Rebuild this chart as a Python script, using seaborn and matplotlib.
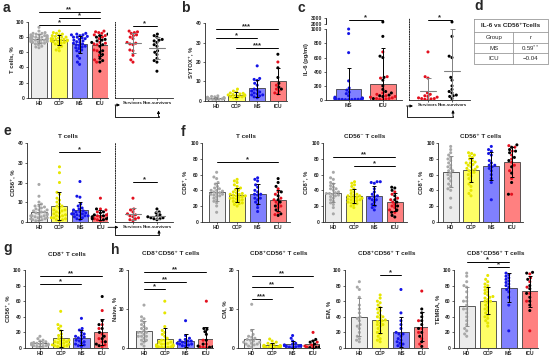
import numpy as np
import pandas as pd
import matplotlib
matplotlib.use("Agg")
from matplotlib import pyplot as plt
import seaborn as sns

# ---------------- datos (leídos a ojo de la figura) ----------------
groups = ["HD", "CCP", "MS", "ICU"]
surv_groups = ["Survivors", "Non-survivors"]

# a: T cells, %
a_hd = [93, 88, 86, 85, 84, 83, 83, 82, 82, 81, 80, 80, 79, 79, 78, 78, 77, 77, 76, 76,
        75, 75, 74, 74, 73, 72, 71, 70, 68, 67, 66, 85, 81, 79, 77, 74, 72, 80, 78, 76]
a_ccp = [88, 86, 85, 84, 83, 82, 81, 80, 79, 78, 78, 77, 76, 76, 75, 74, 74, 73, 72, 71,
         70, 68, 66, 63, 62, 80, 77, 75]
a_ms = [85, 84, 83, 83, 82, 81, 80, 79, 78, 77, 75, 74, 73, 72, 71, 70, 69, 68, 67, 66,
        65, 63, 62, 60, 55, 52, 47, 44, 80, 76]
a_icu_s = [88, 87, 86, 85, 83, 82, 80, 78, 73, 72, 71, 70, 63, 62, 56, 50, 47]
a_icu_n = [84, 82, 80, 77, 76, 75, 73, 70, 68, 62, 60, 57, 52, 49, 47, 35]

# b: SYTOX+, %
b_hd = [0.5, 0.7, 0.8, 1.0, 1.1, 1.2, 1.3, 1.5, 1.6, 1.8, 2.0, 2.2, 2.5, 1.0, 0.9]
b_ccp = [1.0, 1.5, 2.0, 2.2, 2.5, 2.8, 3.0, 3.2, 3.5, 3.8, 4.0, 4.5, 5.0, 6.0, 2.0, 3.0]
b_ms = [18, 11.5, 11, 10.5, 9, 8, 6, 5.5, 5, 4.5, 4, 3.5, 3, 2.5, 2, 1.5, 3]
b_icu_s = [20, 8, 6, 5, 4, 3.5]
b_icu_n = [24, 17, 12, 9, 7, 6]

# c: IL-6 (pg/ml)
c_ms = [1050, 940, 670, 270, 170, 140, 110, 90, 60, 40, 30, 25, 20, 15, 12, 10, 8, 6, 5,
        20, 15, 10, 5, 10]
c_icu_s = [680, 330, 310, 100, 80, 60, 50, 40, 30, 20, 20, 15, 10, 5]
c_icu_n = [2300, 900, 620, 600, 320, 280, 200, 150, 120, 100, 70, 60, 50, 20]

# d: tabla de correlación
d_rows = [["Group", "r"], ["MS", "0.59$^{**}$"], ["ICU", "\u22120.04"]]

# e: CD56+, % (T cells)
e_hd = [19, 13, 10, 9, 8, 7.5, 7, 6.5, 6, 5.5, 5, 5, 4.5, 4, 4, 3.5, 3, 3, 2.5, 2.5, 2, 2,
        1.5, 1.5, 1, 1, 0.5, 0.5, 6, 8, 3]
e_ccp = [28, 25, 20, 15, 14, 12, 11, 10, 9, 8, 7, 6, 5.5, 5, 4.5, 4, 3.5, 3, 2.5, 2, 1.5,
         1, 0.5, 6, 3, 2, 1, 8]
e_ms = [20.5, 13, 12.5, 9, 8, 7, 6.5, 6, 5.5, 5, 4.5, 4, 4, 3.5, 3, 3, 2.5, 2, 1.5, 1, 5, 4, 3]
e_icu_s = [12, 6.5, 6, 5, 4, 3.5, 3, 2.5, 2, 1.5, 1, 0.5]
e_icu_n = [6.5, 5, 4.5, 3.5, 3, 2.5, 2, 2, 1.5, 1.5, 1]

# f1: T cells, CD8+ %
f1_hd = [63, 57, 55, 50, 48, 45, 43, 42, 40, 39, 38, 37, 36, 35, 34, 33, 32, 30, 28, 26,
         24, 20, 12, 40, 35]
f1_ccp = [54, 52, 50, 47, 45, 43, 41, 40, 38, 37, 36, 35, 34, 33, 32, 31, 30, 29, 28, 27,
          26, 25, 24, 23, 22, 20, 35, 33, 30]
f1_ms = [56, 54, 52, 47, 44, 40, 38, 35, 34, 30, 28, 25, 22, 18, 13, 35, 30]
f1_icu_s = [42, 38, 35, 30, 28, 25, 22, 20, 18, 12, 9]
f1_icu_n = [55, 50, 45, 38, 33, 28, 25, 20, 15, 10, 8]

# f2: CD56- T cells, CD8+ %
f2_hd = [63, 56, 54, 50, 48, 46, 44, 42, 40, 38, 37, 36, 35, 34, 33, 32, 30, 28, 26, 24,
         22, 18, 10, 42, 36]
f2_ccp = [51, 49, 47, 45, 42, 40, 38, 36, 35, 34, 33, 32, 31, 30, 29, 28, 27, 26, 25, 24,
          23, 22, 20, 18, 33, 30, 28]
f2_ms = [51, 51, 50, 49, 42, 38, 35, 32, 30, 28, 25, 22, 20, 18, 15, 33, 28]
f2_icu_s = [38, 35, 30, 28, 25, 22, 20, 18, 15, 12]
f2_icu_n = [44, 43, 40, 33, 28, 25, 20, 15, 12, 8, 6]

# f3: CD56+ T cells, CD8+ %
f3_hd = [96, 92, 88, 85, 82, 80, 78, 75, 72, 70, 68, 65, 62, 60, 55, 52, 48, 45, 42, 40,
         30, 18, 65, 58]
f3_ccp = [88, 87, 85, 84, 82, 80, 78, 76, 75, 73, 72, 70, 68, 67, 66, 65, 63, 62, 60, 58,
          55, 52, 48, 45, 40, 36, 33, 70, 75]
f3_ms = [96, 92, 90, 87, 85, 78, 75, 72, 70, 68, 65, 60, 55, 50, 28, 72]
f3_icu_s = [97, 95, 90, 85, 80, 76, 72, 65, 55, 35]
f3_icu_n = [98, 95, 92, 90, 88, 82, 78, 70, 62, 50, 35]

# g: CD8+ T cells, CD56+ %
g_hd = [15, 12, 10, 9, 8, 7, 6, 6, 5, 5, 4, 4, 3, 3, 2, 2, 1, 6, 5]
g_ccp = [47, 30, 28, 25, 22, 18, 16, 14, 12, 10, 9, 8, 7, 6, 5, 5, 4, 3, 3, 2, 2, 1, 10, 8]
g_ms = [38, 25, 23, 20, 18, 16, 15, 13, 12, 10, 9, 8, 6, 5, 4, 3, 2, 14]
g_icu_s = [48, 30, 25, 18, 12, 8, 4, 2]
g_icu_n = [66, 35, 30, 25, 20, 15, 12, 8, 5, 3]

# h1: Naive, %
h1_hd = [11, 8, 7.5, 7, 6.5, 6, 5.5, 5, 5, 4.5, 4, 4, 3.5, 3, 3, 2.5, 2, 2, 1.5, 1, 0.5, 4, 3]
h1_ccp = [12, 9, 5.5, 4.5, 4, 3.5, 3, 2.5, 2, 2, 1.5, 1.5, 1, 1, 0.8, 0.6, 0.5, 0.4, 0.3,
          0.2, 0.2, 0.1, 1.2, 0.8, 0.5, 0.3]
h1_ms = [7, 3.2, 2.5, 2, 1.8, 1.5, 1.3, 1.2, 1, 1, 0.8, 0.6, 0.5, 2.2, 1.8]
h1_icu_s = [12, 2, 1, 0.5, 0.3, 0.2, 0.1]
h1_icu_n = [5, 4.8, 4.2, 3.5, 2, 1, 0.5, 0.3, 0.2]

# h2: CM, %
h2_hd = [11.2, 4.5, 3.5, 3, 2.8, 2.5, 2.2, 2, 1.8, 1.5, 1.2, 1, 0.8, 0.5, 0.3, 1.5, 1]
h2_ccp = [2.3, 1.8, 1.5, 1.2, 1, 0.8, 0.7, 0.6, 0.5, 0.4, 0.3, 0.3, 0.2, 0.2, 0.1, 0.1,
          0.5, 0.6, 0.3]
h2_ms = [3.2, 2.5, 1.8, 1.2, 1, 0.8, 0.6, 0.5, 0.4, 0.3, 0.2, 0.1, 0.5, 0.6]
h2_icu_s = [4, 1.5, 0.8, 0.5, 0.2, 0.1]
h2_icu_n = [2.2, 1.8, 1.5, 1, 0.6, 0.3, 0.2, 0.1]

# h3: EM, %
h3_hd = [85, 78, 75, 65, 55, 50, 45, 40, 38, 35, 30, 28, 25, 20, 15, 12, 10, 8]
h3_ccp = [68, 64, 60, 58, 55, 52, 50, 48, 45, 42, 40, 38, 36, 34, 32, 30, 28, 25, 22, 20,
          18, 15, 12, 10, 8, 40, 35, 30]
h3_ms = [75, 45, 35, 30, 25, 20, 18, 15, 12, 10, 8, 6, 5, 3, 2, 18]
h3_icu_s = [73, 35, 25, 20, 12, 5]
h3_icu_n = [50, 45, 40, 35, 30, 25, 20, 15, 8, 2]

# h4: TEMRA, %
h4_hd = [96, 92, 85, 80, 78, 72, 65, 60, 55, 50, 45, 40, 35, 30, 25, 22, 18, 15, 60, 50]
h4_ccp = [93, 88, 85, 82, 80, 78, 76, 74, 72, 70, 68, 66, 64, 62, 60, 58, 55, 52, 50, 48,
          45, 42, 40, 38, 35, 32, 28, 60, 65]
h4_ms = [96, 94, 92, 90, 88, 86, 84, 82, 80, 78, 72, 65, 55, 22, 75]
h4_icu_s = [95, 90, 85, 78, 70, 60, 22]
h4_icu_n = [97, 96, 88, 80, 76, 70, 65, 60, 55, 48]

# ---------------- estilo ----------------
sns.set_style("ticks")
plt.rcParams["font.family"] = ["Liberation Sans", "DejaVu Sans"]
plt.rcParams["axes.linewidth"] = 0.6

bar_pal = {"HD": "#ebebeb", "CCP": "#ffff66", "MS": "#8080ff", "ICU": "#ff8080"}
pt_pal = {"HD": "#a8a8a8", "CCP": "#e6e600", "MS": "#1414e6", "S": "#e3101e", "N": "#000000"}
err_col = {"HD": "#8c8c8c", "CCP": "k", "MS": "k", "ICU": "k"}

W, H = 550, 357
fig = plt.figure(figsize=(W / 100, H / 100), dpi=100)


def px_axes(left, right, top, bottom):
    return fig.add_axes([left / W, 1 - bottom / H, (right - left) / W, (bottom - top) / H])


def sig_lines(ax, sigs, fs=5.5):
    for x1, x2, y, txt in sigs:
        ax.plot([x1, x2], [y, y], color="k", lw=0.7, clip_on=False)
        ax.annotate(txt, xy=((x1 + x2) / 2, y), xytext=(0, -0.8), textcoords="offset points",
                    ha="center", va="bottom", fontsize=fs, fontweight="bold",
                    annotation_clip=False)


def style(ax, yticks, ylabel, xlim, ylim):
    sns.despine(ax=ax)
    ax.set_xlim(xlim)
    ax.set_ylim(ylim)
    ax.set_yticks(yticks)
    ax.tick_params(labelsize=3.6, length=1.5, width=0.5, pad=1)
    for lab in ax.get_xticklabels() + ax.get_yticklabels():
        lab.set_fontweight("bold")
    ax.set_xlabel("")
    ax.set_ylabel(ylabel, fontsize=4.2, fontweight="bold", labelpad=1.5)


def bar_panel(ax, data, order=groups, width=0.78):
    recs = []
    for g, v in zip(order, data):
        if isinstance(v, tuple):
            recs += [(g, x, "S") for x in v[0]] + [(g, x, "N") for x in v[1]]
        else:
            recs += [(g, x, g) for x in v]
    df = pd.DataFrame(recs, columns=["group", "value", "kind"])
    sns.barplot(data=df, x="group", y="value", order=order, hue="group", palette=bar_pal,
                errorbar=None, width=width, saturation=1, edgecolor="#404040", linewidth=0.6,
                legend=False, ax=ax, zorder=1)
    sns.swarmplot(data=df, x="group", y="value", order=order, hue="kind", palette=pt_pal,
                  size=2.2, linewidth=0, legend=False, ax=ax, warn_thresh=1, zorder=3)
    st = df.groupby("group")["value"].agg(["mean", "std"]).reindex(order)
    for i, g in enumerate(order):
        ax.errorbar(i, st.loc[g, "mean"], yerr=st.loc[g, "std"], fmt="none",
                    ecolor=err_col[g], elinewidth=0.7, capsize=1.6, capthick=0.7, zorder=5)


def surv_panel(ax, s, n):
    df = pd.DataFrame([("Survivors", x, "S") for x in s] + [("Non-survivors", x, "N") for x in n],
                      columns=["group", "value", "kind"])
    sns.swarmplot(data=df, x="group", y="value", order=surv_groups, hue="kind", palette=pt_pal,
                  size=2.2, linewidth=0, legend=False, ax=ax, warn_thresh=1, zorder=3)
    st = df.groupby("group")["value"].agg(["mean", "std"]).reindex(surv_groups)
    for i, g in enumerate(surv_groups):
        m, sd = st.loc[g, "mean"], st.loc[g, "std"]
        ax.errorbar(i, m, yerr=sd, fmt="none", ecolor="#808080", elinewidth=0.7,
                    capsize=1.8, capthick=0.7, zorder=4)
        ax.plot([i - 0.32, i + 0.32], [m, m], color="#808080", lw=0.8, zorder=4)


def style_surv(ax, xlim, ylim):
    ax.set_xlim(xlim)
    ax.set_ylim(ylim)
    for sp in ["top", "right"]:
        ax.spines[sp].set_visible(False)
    ax.spines["left"].set_linestyle((0, (1, 1.5)))
    ax.spines["left"].set_linewidth(0.7)
    ax.tick_params(axis="y", left=False, labelleft=False)
    ax.tick_params(axis="x", labelsize=3.2, length=1.5, width=0.5, pad=1)
    for lab in ax.get_xticklabels():
        lab.set_fontweight("bold")
    ax.set_xlabel("")
    ax.set_ylabel("")


def title(ax, txt, pad=4):
    ax.set_title(txt, fontsize=4.6, fontweight="bold", pad=pad)


# ---------------- a ----------------
ax = px_axes(28, 108, 22, 97.7)
bar_panel(ax, [a_hd, a_ccp, a_ms, (a_icu_s, a_icu_n)])
style(ax, range(0, 101, 20), "T cells, %", (-0.54, 3.4), (0, 100))
sig_lines(ax, [(0, 2, 96, "*"), (1, 3, 105, "*"), (0, 3, 113, "**")])
ax = px_axes(115, 173, 22, 97.7)
surv_panel(ax, a_icu_s, a_icu_n)
style_surv(ax, (-0.75, 1.67), (0, 100))
sig_lines(ax, [(0, 1, 95, "*")])

# ---------------- b ----------------
ax = px_axes(205, 287, 23.3, 100.7)
bar_panel(ax, [b_hd, b_ccp, b_ms, (b_icu_s, b_icu_n)])
style(ax, range(0, 41, 10), "SYTOX\u207a, %", (-0.52, 3.44), (0, 40))
sig_lines(ax, [(0, 3, 37, "***"), (0, 2, 32.5, "*"), (1, 3, 27.4, "***")])


# ---------------- c (eje roto) ----------------
def fwd(v):
    v = np.asarray(v, dtype=float)
    return np.where(v <= 1000, v, 1000 + (v - 1000) * 0.08)


def inv(u):
    u = np.asarray(u, dtype=float)
    return np.where(u <= 1000, u, 1000 + (u - 1000) / 0.08)


ax = px_axes(325.7, 402, 18, 100)
ax.set_yscale("function", functions=(fwd, inv))
bar_panel(ax, [c_ms, (c_icu_s, c_icu_n)], order=["MS", "ICU"], width=0.75)
style(ax, [0, 200, 400, 600, 800, 1000, 2000, 3000], "IL-6 (pg/ml)", (-0.67, 1.56), (0, 3000))
ax.spines["left"].set_bounds(0, 1000)
ax.plot([0, 0], [1900, 3000], transform=ax.get_yaxis_transform(), color="k", lw=0.6,
        clip_on=False)
sig_lines(ax, [(0, 1, 2600, "*")])
ax = px_axes(409, 470, 18, 100)
ax.set_yscale("function", functions=(fwd, inv))
surv_panel(ax, c_icu_s, c_icu_n)
style_surv(ax, (-0.79, 1.75), (0, 3000))
sig_lines(ax, [(0, 1, 2600, "*")])

# ---------------- e ----------------
ax = px_axes(27.3, 108, 143.3, 221.7)
bar_panel(ax, [e_hd, e_ccp, e_ms, (e_icu_s, e_icu_n)])
style(ax, range(0, 41, 10), "CD56\u207a, %", (-0.57, 3.37), (0, 40))
title(ax, "T cells")
sig_lines(ax, [(1, 3, 35.5, "*")])
ax = px_axes(115, 173, 143.3, 221.7)
surv_panel(ax, e_icu_s, e_icu_n)
style_surv(ax, (-0.75, 1.67), (0, 40))
sig_lines(ax, [(0, 1, 20.4, "*")])

# ---------------- f ----------------
ax = px_axes(202.3, 290, 143.3, 221.7)
bar_panel(ax, [f1_hd, f1_ccp, f1_ms, (f1_icu_s, f1_icu_n)])
style(ax, range(0, 101, 20), "CD8\u207a, %", (-0.70, 3.58), (0, 100))
title(ax, "T cells")
sig_lines(ax, [(0, 3, 76.5, "*")])

ax = px_axes(323.3, 406.7, 143.3, 221.7)
bar_panel(ax, [f2_hd, f2_ccp, f2_ms, (f2_icu_s, f2_icu_n)])
style(ax, range(0, 101, 20), "CD8\u207a, %", (-0.49, 3.58), (0, 100))
title(ax, "CD56\u207b T cells")
sig_lines(ax, [(0, 3, 83, "**"), (1, 3, 71, "*")])

ax = px_axes(438.3, 523, 143.3, 221.7)
bar_panel(ax, [f3_hd, f3_ccp, f3_ms, (f3_icu_s, f3_icu_n)])
style(ax, range(0, 101, 20), "CD8\u207a, %", (-0.61, 3.56), (0, 100))
title(ax, "CD56\u207a T cells")

# ---------------- g ----------------
ax = px_axes(25, 108, 270, 348)
bar_panel(ax, [g_hd, g_ccp, g_ms, (g_icu_s, g_icu_n)])
style(ax, range(0, 101, 20), "CD56\u207a, %", (-0.72, 3.28), (0, 100))
title(ax, "CD8\u207a T cells", pad=10)
sig_lines(ax, [(0, 2, 81.5, "*"), (0, 3, 92, "**")])

# ---------------- h ----------------
h_specs = [
    (128, 213, [h1_hd, h1_ccp, h1_ms, (h1_icu_s, h1_icu_n)], [0, 10, 20], "Naive, %",
     (-0.77, 3.32), 20, [(0, 1, 15.1, "*"), (0, 2, 16.8, "**"), (0, 3, 19.4, "**")]),
    (238, 320, [h2_hd, h2_ccp, h2_ms, (h2_icu_s, h2_icu_n)], [0, 10, 20], "CM, %",
     (-0.67, 3.34), 20, [(0, 1, 12.6, "***"), (0, 2, 15.6, "**"), (0, 3, 18.4, "**")]),
    (345, 428, [h3_hd, h3_ccp, h3_ms, (h3_icu_s, h3_icu_n)], range(0, 101, 20), "EM, %",
     (-0.69, 3.30), 100, [(1, 2, 93.6, "*")]),
    (454.3, 538, [h4_hd, h4_ccp, h4_ms, (h4_icu_s, h4_icu_n)], range(0, 101, 20), "TEMRA, %",
     (-0.59, 3.39), 100, [(0, 2, 110.7, "*"), (1, 2, 104.3, "*")]),
]
for left, right, data, yt, yl, xl, ymax, sigs in h_specs:
    ax = px_axes(left, right, 270, 348)
    bar_panel(ax, data)
    style(ax, yt, yl, xl, (0, ymax))
    title(ax, "CD8\u207aCD56\u207a T cells", pad=10.5)
    sig_lines(ax, sigs)

# ---------------- capa superior: letras, tabla, flechas ----------------
ov = fig.add_axes([0, 0, 1, 1], zorder=10)
ov.axis("off")
ov.set_xlim(0, W)
ov.set_ylim(H, 0)

for letter, x, y in [("a", 3, 12), ("b", 181, 12), ("c", 297, 12), ("d", 474, 10),
                     ("e", 3, 135), ("f", 181, 136), ("g", 3, 252), ("h", 111, 254)]:
    ov.text(x, y, letter, fontsize=10, fontweight="bold", va="baseline", ha="left")

# tabla d
tx0, tx1, tmid = 474.3, 547.7, 513.3
ty = [19.3, 31.7, 42.7, 53.3, 64]
gc = "#9a9a9a"
ov.plot([tx0, tx1, tx1, tx0, tx0], [ty[0], ty[0], ty[-1], ty[-1], ty[0]], color=gc, lw=0.6)
for y in ty[1:-1]:
    ov.plot([tx0, tx1], [y, y], color=gc, lw=0.6)
ov.plot([tmid, tmid], [ty[1], ty[-1]], color=gc, lw=0.6)
ov.text((tx0 + tx1) / 2, (ty[0] + ty[1]) / 2, "IL-6 vs CD56\u207aTcells", fontsize=4.6,
        fontweight="bold", ha="center", va="center")
for k, (c1, c2) in enumerate(d_rows):
    yc = (ty[k + 1] + ty[k + 2]) / 2
    ov.text((tx0 + tmid) / 2, yc, c1, fontsize=4.4, ha="center", va="center")
    ov.text((tmid + tx1) / 2, yc, c2, fontsize=4.4, ha="center", va="center")

# flechas ICU -> supervivientes
aprops = dict(arrowstyle="-|>", color="k", lw=0.6, mutation_scale=4, shrinkA=0, shrinkB=0)
for x0, xa, y0, yb, xn, yn in [(115, 120, 105, 117, 158.5, 110.5),
                               (108, 118.5, 227.3, 235, 159, 230),
                               (406.5, 413, 106, 116.7, 453, 110)]:
    ov.annotate("", xy=(xa, y0), xytext=(x0, y0), arrowprops=aprops)
    vx = x0 if x0 > 110 else 115
    ov.plot([vx, vx, xn, xn], [y0, yb, yb, yb - 1], color="k", lw=0.6)
    ov.annotate("", xy=(xn, yn), xytext=(xn, yb), arrowprops=aprops)

fig.savefig("out.png", dpi=100)
